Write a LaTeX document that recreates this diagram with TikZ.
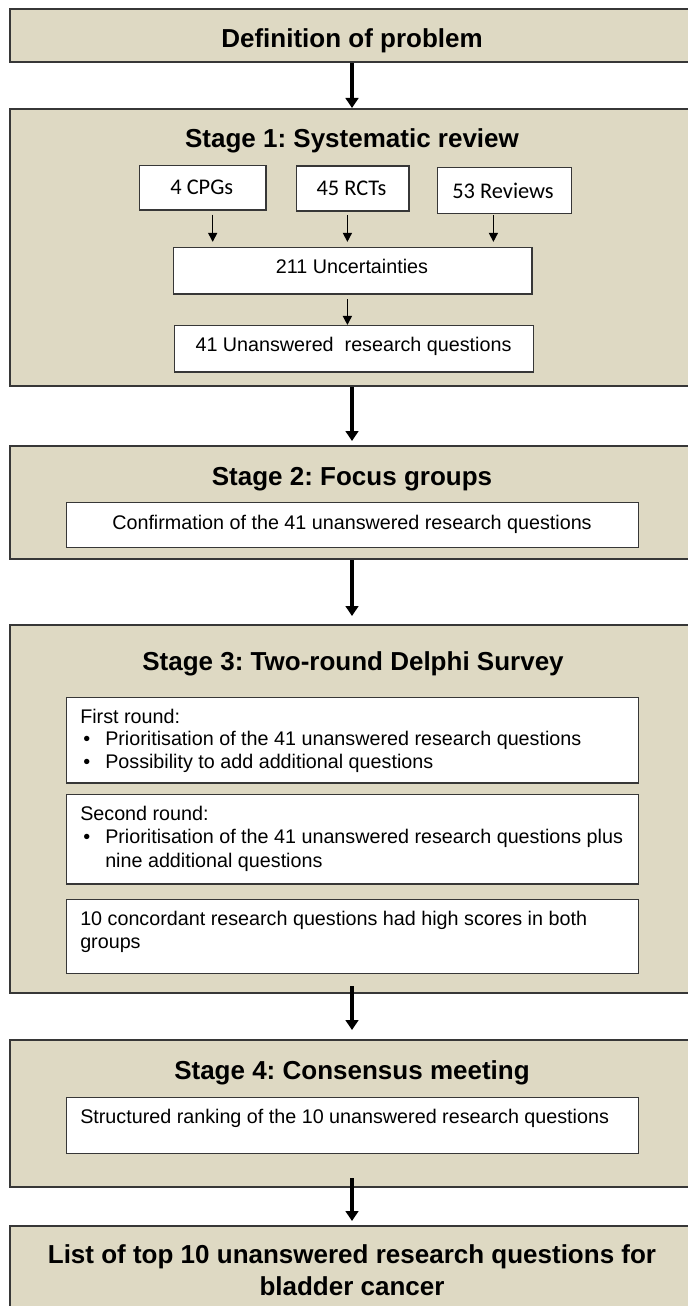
\documentclass[tikz,border=0pt]{standalone}
\usepackage{fontspec}
\setmainfont{Liberation Sans}
\newfontfamily\calib{Carlito}
\usetikzlibrary{arrows.meta}
\definecolor{tanfill}{RGB}{222,217,195}
\definecolor{edgecol}{RGB}{55,55,55}
\newcommand{\pxbox}[6]{%
  \node[#6, minimum width={(#4-#2)*0.75pt}, minimum height={(#5-#3)*0.75pt}]
    (#1) at ({(#2+#4)/2},{(#3+#5)/2}) {};}
\newcommand{\bul}{\makebox[18.75pt][l]{\hspace{2.25pt}\textbullet}}
\frenchspacing
\begin{document}
\begin{tikzpicture}[x=0.75pt,y=-0.75pt,
  outerbox/.style={draw=edgecol,line width=1.5pt,fill=tanfill,rectangle,inner sep=0pt},
  innerbox/.style={draw=edgecol,line width=1.1pt,fill=white,rectangle,inner sep=0pt},
  ttl/.style={font=\fontsize{19.5pt}{24pt}\selectfont\bfseries, inner sep=0pt, anchor=base},
  txt/.style={font=\fontsize{14.8pt}{17.25pt}\selectfont, inner sep=0pt, anchor=base},
  ltxt/.style={txt, anchor=base west},
  ctxt/.style={font=\calib\fontsize{16.8pt}{20pt}\selectfont, inner sep=0pt, anchor=base},
  bigarr/.style={line width=2.6pt, -{Triangle[width=9.5pt,length=7.5pt]}},
  smallarr/.style={line width=1.1pt, -{Triangle[width=6.8pt,length=6.8pt]}},
]
\useasboundingbox (0,0) rectangle (688,1306);
\clip (0,0) rectangle (688,1306);

% outer boxes
\pxbox{def}{10}{9}{694}{62}{outerbox}
\pxbox{s1}{10}{109}{694}{386}{outerbox}
\pxbox{s2}{10}{446}{694}{559}{outerbox}
\pxbox{s3}{10}{625}{694}{993}{outerbox}
\pxbox{s4}{10}{1040}{694}{1187}{outerbox}
\pxbox{fin}{10}{1226}{694}{1340}{outerbox}

% inner boxes
\pxbox{cpg}{139.3}{165.7}{266}{210}{innerbox}
\pxbox{rct}{296.6}{166}{409}{211}{innerbox}
\pxbox{rev}{437.7}{167.3}{571.5}{213.7}{innerbox}
\pxbox{unc}{173.3}{247.3}{532}{294}{innerbox}
\pxbox{q41}{174.3}{325.7}{533.3}{372}{innerbox}
\pxbox{conf}{66.7}{502.3}{638.6}{547.3}{innerbox}
\pxbox{r1}{66.7}{697.7}{638.6}{783}{innerbox}
\pxbox{r2}{66.7}{794.3}{638.6}{884}{innerbox}
\pxbox{r3}{66.7}{899.3}{638.6}{973.3}{innerbox}
\pxbox{rank}{66.7}{1097.3}{638.6}{1153.3}{innerbox}

% titles
\node[ttl] (deft) at (352,48) {Definition of problem};
\node[ttl] (s1t) at (352,147) {Stage 1: Systematic review};
\node[ttl] (s2t) at (352,485) {Stage 2: Focus groups};
\node[ttl] (s3t) at (353,670) {Stage 3: Two-round Delphi Survey};
\node[ttl] (s4t) at (352,1079) {Stage 4: Consensus meeting};
\node[ttl] (fina) at (352,1263) {List of top 10 unanswered research questions for};
\node[ttl] (finb) at (352,1295) {bladder cancer};

% stage 1 texts
\node[ctxt] (cpgt) at (201.8,194.5) {4 CPGs};
\node[ctxt] (rctt) at (351.5,195) {45 RCTs};
\node[ctxt] (revt) at (503,198) {53 Reviews};
\node[txt] (unct) at (352,273) {211 Uncertainties};
\node[txt] (q41t) at (353.5,351) {41 Unanswered\ \ research questions};

% stage 2 text
\node[txt] (conft) at (352,529) {Confirmation of the 41 unanswered research questions};

% stage 3 texts
\node[ltxt] (r1a) at (80,723) {First round:};
\node[ltxt] (r1b) at (80,745) {\bul Prioritisation of the 41 unanswered research questions};
\node[ltxt] (r1c) at (80,768) {\bul Possibility to add additional questions};
\node[ltxt] (r2a) at (80,820) {Second round:};
\node[ltxt] (r2b) at (80,843) {\bul Prioritisation of the 41 unanswered research questions plus};
\node[ltxt] (r2c) at (80,867) {\hspace*{18.75pt}nine additional questions};
\node[ltxt] (r3a) at (80,925) {10 concordant research questions had high scores in both};
\node[ltxt] (r3b) at (80,948) {groups};

% stage 4 text
\node[ltxt] (rankt) at (80,1123) {Structured ranking of the 10 unanswered research questions};

% small arrows in stage 1
\coordinate (a1) at (212.7,214.5);
\coordinate (a2) at (347.4,215);
\coordinate (a3) at (493.4,215);
\coordinate (a4) at (347.4,299);
\draw[smallarr, shorten >=3.5pt] (a1) -- (a1 |- unc.north);
\draw[smallarr, shorten >=3.5pt] (a2) -- (a2 |- unc.north);
\draw[smallarr, shorten >=3.5pt] (a3) -- (a3 |- unc.north);
\draw[smallarr] (a4) -- (a4 |- q41.north);

% main arrows
\draw[bigarr] (def.south) -- (s1.north);
\draw[bigarr, shorten >=3pt] (s1.south) -- (s2.north);
\draw[bigarr, shorten >=6pt] (s2.south) -- (s3.north);
\draw[bigarr, shorten >=6.75pt, shorten <=-6pt] (s3.south) -- (s4.north);
\draw[bigarr, shorten >=3pt, shorten <=-7.5pt] (s4.south) -- (fin.north);
\end{tikzpicture}
\end{document}
